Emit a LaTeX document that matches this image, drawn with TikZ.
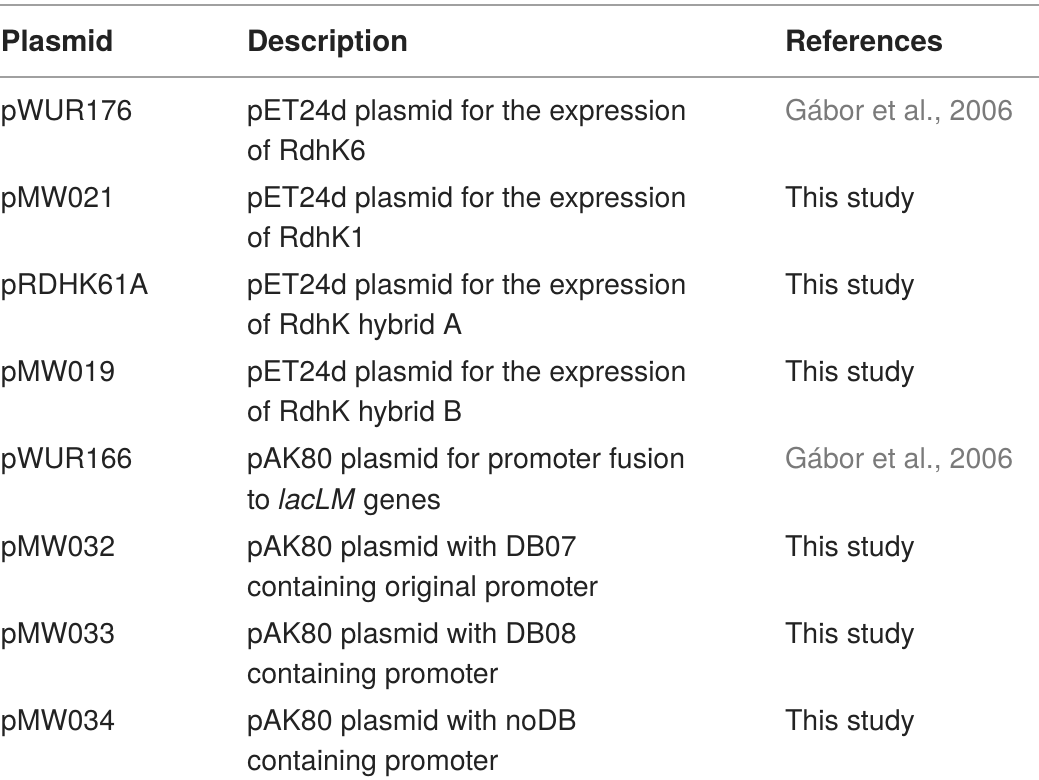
\documentclass[tikz,border=0pt]{standalone}
\usepackage{fontspec}
\setmainfont{TeX Gyre Heros}
\definecolor{rulegray}{HTML}{A0A0A0}
\definecolor{refgray}{HTML}{7A7A7A}
\definecolor{txt}{HTML}{222222}
\begin{document}
\begin{tikzpicture}[x=0.75pt,y=-0.75pt,
  cell/.style={anchor=base west,inner sep=0pt,outer sep=0pt,text=txt,font=\fontsize{21.4}{30}\selectfont},
  head/.style={cell,font=\fontsize{22}{30}\selectfont\bfseries},
  refg/.style={cell,text=refgray},
  rule/.style={draw=rulegray,line width=1.5pt}]
\useasboundingbox (0,0) rectangle (1039,780);
\coordinate (t0) at (0,5); \coordinate (t1) at (1039,5);
\coordinate (h0) at (0,77); \coordinate (h1) at (1039,77);
\draw[rule] (t0) -- (t1);
\draw[rule] (h0) -- (h1);
\node[head] (hp) at (1,52) {Plasmid};
\node[head] (hd) at (247,52) {Description};
\node[head] (hr) at (785,52) {References};
% rows
\node[cell] (p1) at (1,121) {pWUR176};
\node[cell] (d1a) at (247,121) {pET24d plasmid for the expression};
\node[cell] (d1b) at (247,161) {of RdhK6};
\node[refg] (r1) at (785,121) {Gábor et al., 2006};
\node[cell] (p2) at (1,208) {pMW021};
\node[cell] (d2a) at (247,208) {pET24d plasmid for the expression};
\node[cell] (d2b) at (247,248) {of RdhK1};
\node[cell] (r2) at (785,208) {This study};
\node[cell] (p3) at (1,295) {pRDHK61A};
\node[cell] (d3a) at (247,295) {pET24d plasmid for the expression};
\node[cell] (d3b) at (247,335) {of RdhK hybrid A};
\node[cell] (r3) at (785,295) {This study};
\node[cell] (p4) at (1,382) {pMW019};
\node[cell] (d4a) at (247,382) {pET24d plasmid for the expression};
\node[cell] (d4b) at (247,422) {of RdhK hybrid B};
\node[cell] (r4) at (785,382) {This study};
\node[cell] (p5) at (1,469) {pWUR166};
\node[cell] (d5a) at (247,469) {pAK80 plasmid for promoter fusion};
\node[cell] (d5b) at (247,509) {to \textit{lacLM} genes};
\node[refg] (r5) at (785,469) {Gábor et al., 2006};
\node[cell] (p6) at (1,556) {pMW032};
\node[cell] (d6a) at (247,556) {pAK80 plasmid with DB07};
\node[cell] (d6b) at (247,596) {containing original promoter};
\node[cell] (r6) at (785,556) {This study};
\node[cell] (p7) at (1,643) {pMW033};
\node[cell] (d7a) at (247,643) {pAK80 plasmid with DB08};
\node[cell] (d7b) at (247,683) {containing promoter};
\node[cell] (r7) at (785,643) {This study};
\node[cell] (p8) at (1,730) {pMW034};
\node[cell] (d8a) at (247,730) {pAK80 plasmid with noDB};
\node[cell] (d8b) at (247,770) {containing promoter};
\node[cell] (r8) at (785,730) {This study};
\end{tikzpicture}
\end{document}
